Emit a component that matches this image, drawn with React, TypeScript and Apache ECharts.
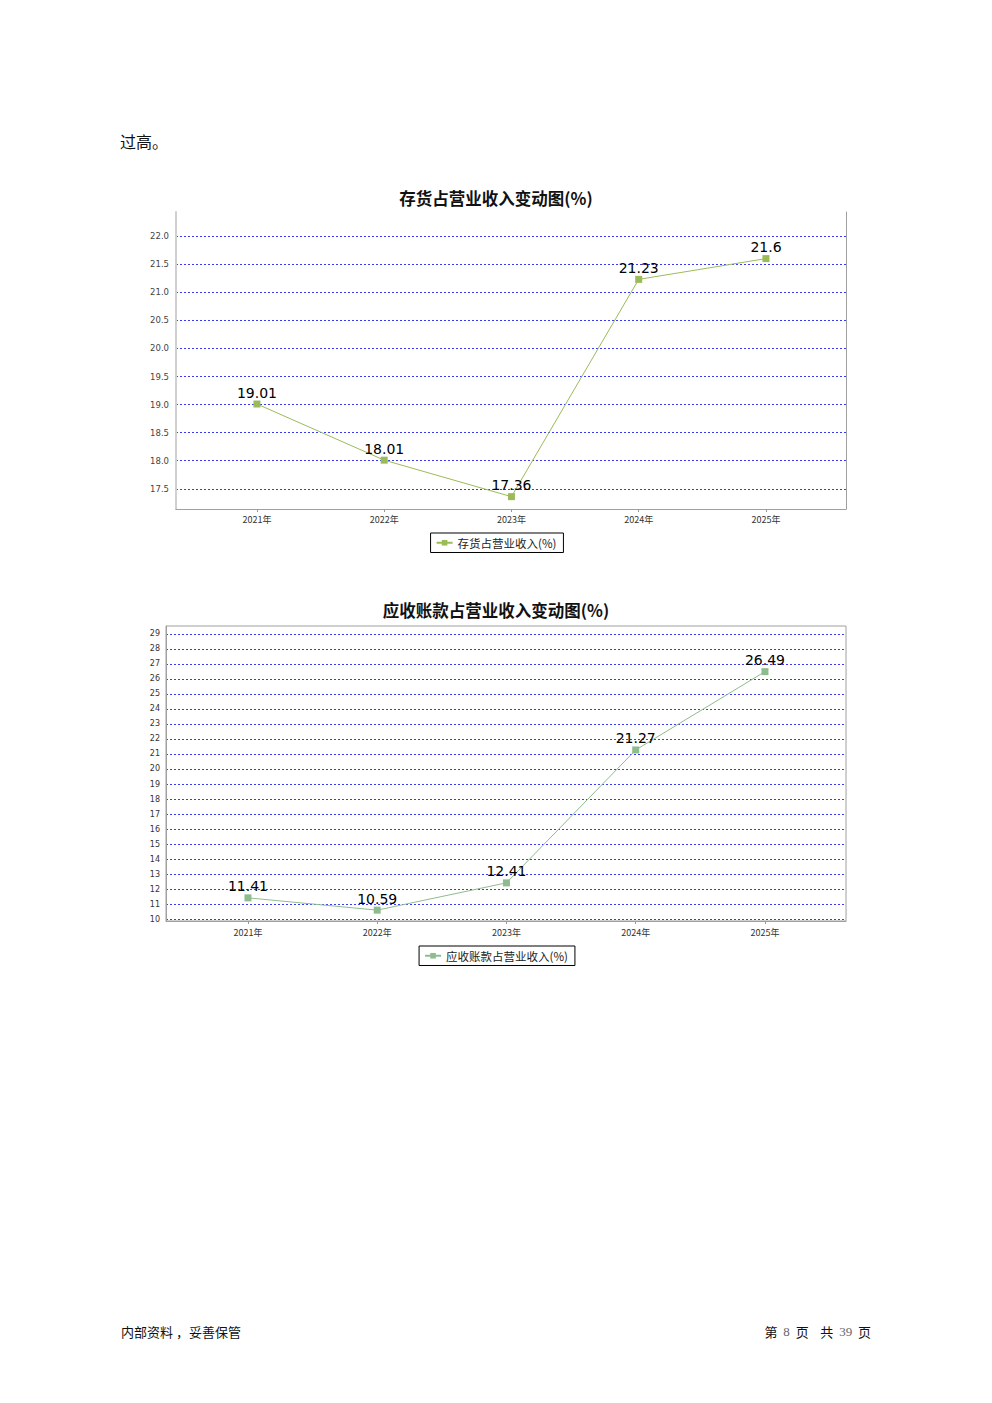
import React, { useEffect, useRef } from "react";
import * as echarts from "echarts";

const years = ["2021年", "2022年", "2023年", "2024年", "2025年"];
const inventoryRatio = [19.01, 18.01, 17.36, 21.23, 21.6];
const receivableRatio = [11.41, 10.59, 12.41, 21.27, 26.49];
const yTicks1 = [17.5, 18.0, 18.5, 19.0, 19.5, 20.0, 20.5, 21.0, 21.5, 22.0];
const yTicks2 = [10, 11, 12, 13, 14, 15, 16, 17, 18, 19, 20, 21, 22, 23, 24, 25, 26, 27, 28, 29];
const xIdx = [0, 1, 2, 3, 4];

const title1 = "存货占营业收入变动图(%)";
const title2 = "应收账款占营业收入变动图(%)";
const series1Name = "存货占营业收入(%)";
const series2Name = "应收账款占营业收入(%)";

const CJK = "'Noto Sans CJK SC', 'DejaVu Sans', sans-serif";
const GRID_BLUE = "#3a3af5";
const AXIS_GRAY = "#a0a0a0";

export default function App() {
  const ref = useRef<HTMLDivElement>(null);
  useEffect(() => {
    if (!ref.current) return;
    const chart = echarts.init(ref.current, undefined, { renderer: "svg" });

    const xAxisBase = (gridIndex: number, min: number, max: number, margin: number) => ({
      type: "value",
      gridIndex,
      min,
      max,
      axisLine: { show: true, onZero: false, lineStyle: { color: AXIS_GRAY, width: 1 } },
      axisTick: { show: true, customValues: xIdx, length: 3, lineStyle: { color: "#999" } },
      axisLabel: {
        customValues: xIdx,
        formatter: (v: number) => years[Math.round(v)] ?? "",
        fontSize: 9,
        color: "#333",
        margin,
        fontFamily: CJK,
      },
      splitLine: { show: false },
    });

    const splitLine = {
      show: true,
      lineStyle: { color: GRID_BLUE, type: [2, 2], width: 1 },
    };

    const dataLabel = {
      show: true,
      position: "top",
      distance: 1,
      fontSize: 14,
      color: "#000",
      fontFamily: "'DejaVu Sans', sans-serif",
      formatter: (p: any) => String(p.value[1]),
    };

    const legendBase = {
      left: "center",
      borderColor: "#000",
      borderWidth: 1,
      padding: [4, 7, 4, 5],
      itemWidth: 16,
      itemHeight: 7,
      itemGap: 4,
      textStyle: { fontSize: 11.5, color: "#222", fontFamily: CJK },
    };

    const option: any = {
      animation: false,
      backgroundColor: "#ffffff",
      title: [
        {
          text: title1,
          left: "center",
          top: 185,
          textStyle: { fontSize: 16.5, fontWeight: "bold", color: "#111", fontFamily: CJK },
        },
        {
          text: title2,
          left: "center",
          top: 597,
          textStyle: { fontSize: 16.5, fontWeight: "bold", color: "#111", fontFamily: CJK },
        },
      ],
      legend: [
        { ...legendBase, data: [series1Name], top: 533 },
        { ...legendBase, data: [series2Name], top: 946 },
      ],
      grid: [
        { left: 176, top: 212, width: 670, height: 297, show: false },
        {
          left: 166,
          top: 626,
          width: 680,
          height: 295,
          show: true,
          borderColor: AXIS_GRAY,
          borderWidth: 1,
        },
      ],
      xAxis: [xAxisBase(0, -0.636, 4.629, 6), xAxisBase(1, -0.634, 4.627, 7)],
      yAxis: [
        {
          type: "value",
          gridIndex: 0,
          min: 17.14,
          max: 22.43,
          axisLine: { show: true, onZero: false, lineStyle: { color: "#d0d0d0", width: 2 } },
          axisTick: { show: false, customValues: yTicks1 },
          axisLabel: {
            customValues: yTicks1,
            formatter: (v: number) => v.toFixed(1),
            fontSize: 8.5,
            color: "#444",
            margin: 7,
            fontFamily: "'DejaVu Sans', sans-serif",
          },
          splitLine,
        },
        {
          type: "value",
          gridIndex: 0,
          position: "right",
          min: 17.14,
          max: 22.43,
          axisLine: { show: true, onZero: false, lineStyle: { color: AXIS_GRAY, width: 1 } },
          axisTick: { show: false },
          axisLabel: { show: false },
          splitLine: { show: false },
        },
        {
          type: "value",
          gridIndex: 1,
          min: 9.867,
          max: 29.533,
          axisLine: { show: true, onZero: false, lineStyle: { color: AXIS_GRAY, width: 1 } },
          axisTick: { show: false, customValues: yTicks2 },
          axisLabel: {
            customValues: yTicks2,
            formatter: (v: number) => String(v),
            fontSize: 8,
            color: "#333",
            margin: 6,
            fontFamily: "'DejaVu Sans', sans-serif",
          },
          splitLine,
        },
      ],
      series: [
        {
          name: series1Name,
          type: "line",
          xAxisIndex: 0,
          yAxisIndex: 0,
          data: inventoryRatio.map((v, i) => [i, v]),
          symbol: "rect",
          symbolSize: 7,
          itemStyle: { color: "#9bbb59" },
          lineStyle: { color: "#9bbb59", width: 1 },
          label: dataLabel,
        },
        {
          name: series2Name,
          type: "line",
          xAxisIndex: 1,
          yAxisIndex: 2,
          data: receivableRatio.map((v, i) => [i, v]),
          symbol: "rect",
          symbolSize: 7,
          itemStyle: { color: "#8fbc8f" },
          lineStyle: { color: "#8fbc8f", width: 1 },
          label: dataLabel,
        },
      ],
      graphic: [
        {
          type: "text",
          left: 120,
          top: 133,
          style: { text: "过高。", fontSize: 16, fill: "#111", fontFamily: CJK },
        },
        {
          type: "text",
          left: 121,
          top: 1325,
          style: { text: "内部资料 ，妥善保管", fontSize: 13, fill: "#111", fontFamily: CJK },
        },
        {
          type: "text",
          right: 121,
          top: 1325,
          style: {
            text: "第  {n|8}  页    共  {n|39}  页",
            fontSize: 13,
            fill: "#111",
            fontFamily: CJK,
            rich: {
              n: { fontSize: 13, fill: "#666", fontFamily: "'Liberation Serif', serif" },
            },
          },
        },
      ],
    };

    chart.setOption(option);
    return () => chart.dispose();
  }, []);

  return (
    <div
      ref={ref}
      style={{ position: "absolute", left: 0, top: 0, width: 992, height: 1403, background: "#fff" }}
    />
  );
}
